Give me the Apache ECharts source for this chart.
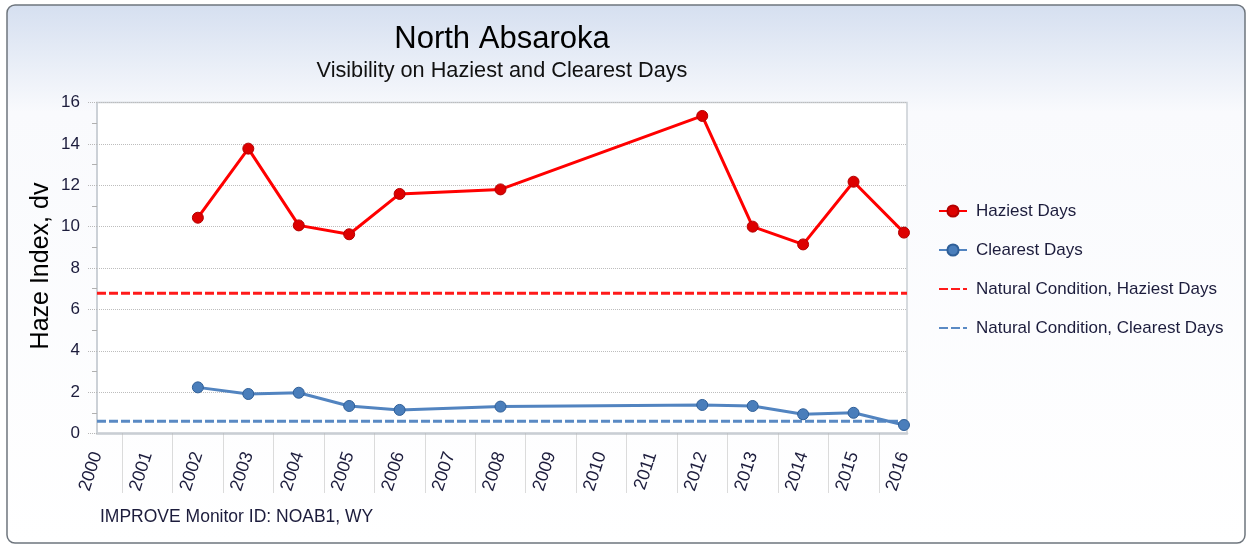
<!DOCTYPE html>
<html>
<head>
<meta charset="utf-8">
<script src="https://cdn.jsdelivr.net/npm/echarts@6/dist/echarts.min.js"></script>
<style>
html, body { margin: 0; padding: 0; background: #fff; }
#hazeChart { width: 1249px; height: 546px; }
</style>
</head>
<body>
<div id="hazeChart"></div>
<script>
// data
var years = [2002, 2003, 2004, 2005, 2006, 2008, 2012, 2013, 2014, 2015, 2016];
var haziestDays = [10.43, 13.77, 10.06, 9.63, 11.58, 11.8, 15.35, 10.0, 9.14, 12.17, 9.71];
var clearestDays = [2.23, 1.91, 1.97, 1.33, 1.14, 1.3, 1.38, 1.33, 0.93, 1.0, 0.41];
var naturalHaziest = 6.78;
var naturalClearest = 0.59;
var seriesNames = ['Haziest Days', 'Clearest Days', 'Natural Condition, Haziest Days', 'Natural Condition, Clearest Days'];

// x axis runs from the first label cell to just past the last point
var yearMin = 2000;
var yearMax = 2016.06;

function pairs(xs, ys) {
    return xs.map(function (x, i) { return [x, ys[i]]; });
}

var hazeChart = echarts.init(document.getElementById('hazeChart'));

var font = '"Liberation Sans", Arial, sans-serif';
var textColor = '#1c1c3c';

var hazeOption = {
    animation: false,
    textStyle: { fontFamily: font },
    graphic: [
        {
            type: 'rect',
            z: -10,
            shape: { x: 7, y: 5, width: 1238, height: 538, r: 8 },
            style: {
                fill: new echarts.graphic.LinearGradient(0, 0, 0, 1, [
                    { offset: 0, color: '#d5dff0' },
                    { offset: 0.2, color: '#f9fafd' },
                    { offset: 1, color: '#ffffff' }
                ]),
                stroke: '#6e757d',
                lineWidth: 1.5
            }
        },
        {
            type: 'text',
            left: 100,
            top: 508,
            style: { text: 'IMPROVE Monitor ID: NOAB1, WY', font: '17.5px ' + font, fill: textColor }
        }
    ],
    title: {
        text: 'North Absaroka',
        subtext: 'Visibility on Haziest and Clearest Days',
        left: 497,
        top: 19,
        textAlign: 'center',
        itemGap: 5,
        textStyle: { fontSize: 31, fontWeight: 'normal', color: '#000' },
        subtextStyle: { fontSize: 21.7, color: '#111' }
    },
    legend: {
        orient: 'vertical',
        left: 938,
        top: 202.5,
        padding: 0,
        itemWidth: 28,
        itemHeight: 14,
        itemGap: 22,
        textStyle: { fontSize: 17, color: textColor, padding: [0, 0, 0, 4] },
        data: seriesNames
    },
    grid: {
        left: 97,
        right: 342,
        top: 102.5,
        bottom: 112.5,
        show: true,
        backgroundColor: '#fff',
        borderColor: '#c9ced4',
        borderWidth: 1.5
    },
    xAxis: {
        type: 'value',
        min: yearMin,
        max: yearMax,
        interval: 1,
        axisLine: { lineStyle: { color: '#c9ced4', width: 2.5 } },
        axisTick: { show: false },
        minorTick: {
            show: true,
            splitNumber: 2,
            length: 60,
            lineStyle: { color: '#b8b8b8', type: 'dotted', width: 1 }
        },
        splitLine: { show: false },
        axisLabel: {
            rotate: 72,
            margin: 19,
            fontSize: 18,
            color: textColor,
            formatter: function (v) {
                return v % 1 === 0 ? String(v) : '';
            }
        }
    },
    yAxis: {
        type: 'value',
        min: 0,
        max: 16,
        interval: 2,
        name: 'Haze Index, dv',
        nameLocation: 'middle',
        nameGap: 43,
        nameMoveOverlap: false,
        nameTextStyle: { fontSize: 25, color: '#000', padding: [0, 0, 0, 4] },
        axisLine: { show: true, lineStyle: { color: '#c9ced4', width: 1.5 } },
        axisTick: { show: true, length: 9, lineStyle: { color: '#b8b8b8', type: 'dotted' } },
        minorTick: { show: true, splitNumber: 2, length: 5, lineStyle: { color: '#b0b0b0' } },
        splitLine: { lineStyle: { color: '#bdbdbd', type: 'dotted' } },
        axisLabel: { fontSize: 17, margin: 17, color: textColor }
    },
    series: [
        {
            name: seriesNames[0],
            type: 'line',
            data: pairs(years, haziestDays),
            symbol: 'circle',
            symbolSize: 11,
            z: 4,
            lineStyle: { color: '#ff0000', width: 3 },
            itemStyle: { color: '#dd0000', borderColor: '#b30000', borderWidth: 1 }
        },
        {
            name: seriesNames[1],
            type: 'line',
            data: pairs(years, clearestDays),
            symbol: 'circle',
            symbolSize: 11,
            z: 4,
            lineStyle: { color: '#5284c0', width: 3 },
            itemStyle: { color: '#4a7ebb', borderColor: '#2f5f98', borderWidth: 1 }
        },
        {
            name: seriesNames[2],
            type: 'line',
            data: [[yearMin, naturalHaziest], [yearMax, naturalHaziest]],
            symbol: 'none',
            z: 3,
            lineStyle: { color: '#ff1a1a', width: 3, type: [9, 3] },
            itemStyle: { color: 'rgba(0,0,0,0)', borderWidth: 0 }
        },
        {
            name: seriesNames[3],
            type: 'line',
            data: [[yearMin, naturalClearest], [yearMax, naturalClearest]],
            symbol: 'none',
            z: 3,
            lineStyle: { color: '#5a8ac4', width: 3, type: [9, 3] },
            itemStyle: { color: 'rgba(0,0,0,0)', borderWidth: 0 }
        }
    ]
};

hazeChart.setOption(hazeOption);
</script>
</body>
</html>
